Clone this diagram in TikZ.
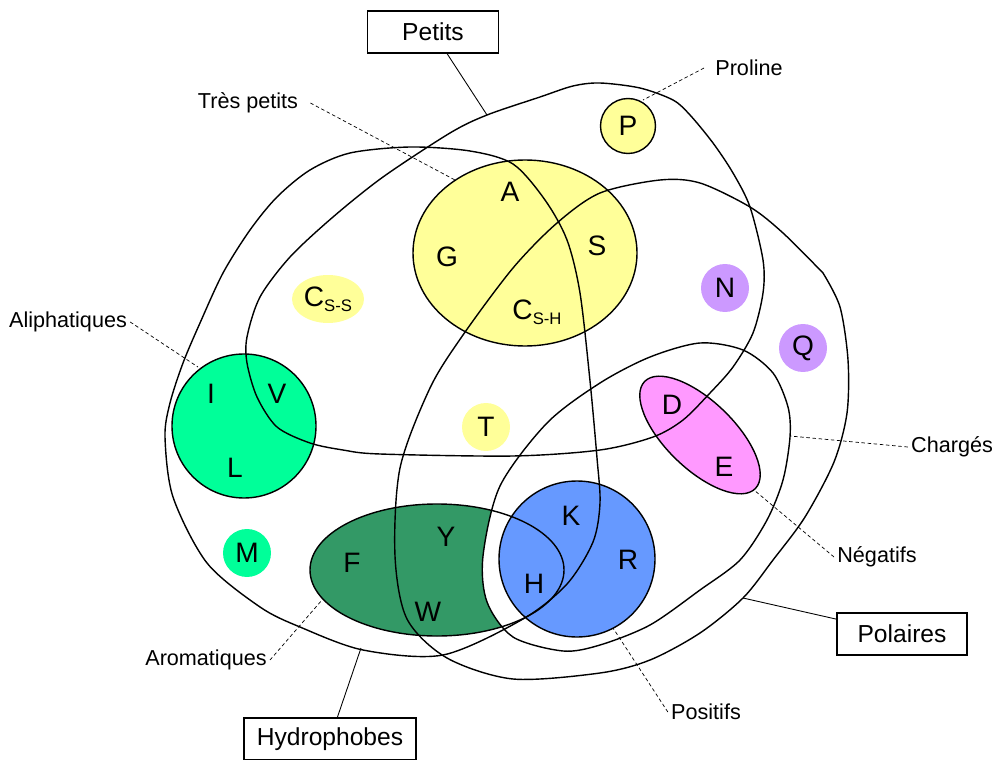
\documentclass[tikz,border=0pt]{standalone}
\usepackage{fontspec}
\setmainfont{Liberation Sans}
\usetikzlibrary{calc,positioning}
\usetikzlibrary{shapes.geometric}

\definecolor{jaune}{HTML}{FFFF99}
\definecolor{vertclair}{HTML}{00FF99}
\definecolor{vertfonce}{HTML}{339966}
\definecolor{bleu}{HTML}{6699FF}
\definecolor{rose}{HTML}{FF99FF}
\definecolor{mauve}{HTML}{CC99FF}

\newcommand{\cysub}[1]{\raisebox{-2.8pt}{\fontsize{9.5pt}{10pt}\selectfont #1}}

\tikzset{
    ensemble/.style={line width=0.8pt},
    aa/.style={font=\fontsize{16pt}{16pt}\selectfont, inner sep=0pt},
    pastille/.style={aa, circle, minimum size=0.96cm},
    etiq/.style={font=\fontsize{12.3pt}{14pt}\selectfont, inner sep=0.06cm},
    boite/.style={draw, line width=0.6pt, font=\fontsize{14pt}{16pt}\selectfont, minimum height=0.84cm, inner sep=0pt},
    renvoi/.style={dashed, dash pattern=on 2pt off 1.5pt, line width=0.4pt},
    trait/.style={line width=0.5pt}
}

\begin{document}
\begin{tikzpicture}[x=0.02cm, y=-0.02cm]
    \useasboundingbox (0,0) rectangle (997,760);

    % fonds colores
    \fill[jaune] (525,253) ellipse [x radius=112, y radius=93];
    \fill[vertclair] (244,426) circle [radius=72];
    \fill[vertfonce] (437,570) ellipse [x radius=127, y radius=66];
    % Charges
    \fill[white] plot[smooth cycle] coordinates {(700,343) (743,350) (773,373) (788,407) (790,437) (783,480) (767,520) (740,560) (700,590) (650,625) (600,645) (563,651) (513,637) (487,602) (483,556) (500,486) (547,423) (600,383) (650,357)};
    \fill[bleu] (577,559) circle [radius=78];
    \fill[rose, rotate around={-44:(700,435)}] (700,435) ellipse [x radius=77, y radius=34];

    % contours
    \draw[ensemble] (525,253) ellipse [x radius=112, y radius=93];
    \draw[ensemble] (244,426) circle [radius=72];
    \draw[ensemble] (437,570) ellipse [x radius=127, y radius=66];
    \draw[ensemble] (577,559) circle [radius=78];
    \draw[ensemble, rotate around={-44:(700,435)}] (700,435) ellipse [x radius=77, y radius=34];

    % Petits
    \draw[ensemble] plot[smooth cycle] coordinates {(487,115) (540,97) (573,86) (600,83) (640,88) (673,100) (690,115) (713,143) (733,173) (750,207) (763,260) (763,293) (753,333) (733,367) (710,393) (683,420) (653,437) (600,450) (513,456) (380,454) (343,450) (310,443) (277,427) (257,397) (247,363) (247,337) (260,297) (290,257) (333,217) (383,177) (450,133)};
    % Hydrophobes
    \draw[ensemble] plot[smooth cycle] coordinates {(410,147) (470,151) (513,164) (545,200) (567,240) (580,293) (590,381) (597,458) (600,503) (593,542) (567,584) (523,619) (443,655) (363,650) (300,627) (260,607) (207,563) (173,497) (165,437) (170,403) (183,363) (200,323) (223,273) (250,230) (277,197) (310,170) (350,153)};
    % Polaires (un coin a droite)
    \draw[ensemble] plot[smooth] coordinates {(823,273) (840,307) (848,360) (847,413) (834,462) (805,517) (773,560) (743,598) (700,633) (650,660) (600,673) (513,679) (447,658) (407,619) (395,556) (400,468) (430,388) (463,335) (513,268) (557,223) (600,193) (660,180) (700,183) (750,207) (783,233) (823,273)};
    % Charges
    \draw[ensemble] plot[smooth cycle] coordinates {(700,343) (743,350) (773,373) (788,407) (790,437) (783,480) (767,520) (740,560) (700,590) (650,625) (600,645) (563,651) (513,637) (487,602) (483,556) (500,486) (547,423) (600,383) (650,357)};

    % acides amines isoles
    \node[pastille, draw, line width=0.8pt, fill=jaune, minimum size=1.1cm] (P) at (628,126) {P};
    \node[aa, ellipse, fill=jaune, minimum width=1.44cm, minimum height=0.96cm] (Css) at (328,299) {C\cysub{S-S}};
    \node[pastille, fill=jaune] (T) at (486,427) {T};
    \node[pastille, fill=mauve] (N) at (725,288) {N};
    \node[pastille, fill=mauve] (Q) at (803,348) {Q};
    \node[pastille, fill=vertclair] (M) at (247,553) {M};

    \node[aa] (A) at (510,192) {A};
    \node[aa] (G) at (447,257) {G};
    \node[aa] (S) at (597,246) {S};
    \node[aa] (Csh) at (537,312) {C\cysub{S-H}};
    \node[aa] (I) at (211,394) {I};
    \node[aa] (V) at (277,394) {V};
    \node[aa] (L) at (235,468) {L};
    \node[aa] (D) at (672,405) {D};
    \node[aa] (E) at (724,467) {E};
    \node[aa] (K) at (571,516) {K};
    \node[aa] (R) at (628,560) {R};
    \node[aa] (H) at (534,584) {H};
    \node[aa] (Y) at (446,537) {Y};
    \node[aa] (F) at (352,563) {F};
    \node[aa] (W) at (428,612) {W};

    % etiquettes
    \node[boite, minimum width=2.62cm] (petits) at (433,32) {Petits};
    \node[boite, minimum width=2.6cm] (polaires) at (902,634) {Polaires};
    \node[boite, minimum width=3.44cm] (hydro) at (330,739) {Hydrophobes};

    \node[etiq, inner xsep=0.24cm] (tp) at (248,103) {Très petits};
    \node[etiq, inner xsep=0.22cm] (proline) at (749,68) {Proline};
    \node[etiq] (aliph) at (68,322) {Aliphatiques};
    \node[etiq] (charges) at (952,447) {Chargés};
    \node[etiq] (negatifs) at (877,557) {Négatifs};
    \node[etiq] (positifs) at (706,712) {Positifs};
    \node[etiq] (aromat) at (206,660) {Aromatiques};

    \coordinate (bpetits) at (487,115);
    \coordinate (bpolaires) at (743,598);
    \coordinate (bhydro) at (361,648);
    \coordinate (btp) at (455,180);
    \coordinate (bproline) at (643,100);
    \coordinate (baliph) at (198,367);
    \coordinate (bcharges) at (790,436);
    \coordinate (bnegatifs) at (754,490);
    \coordinate (bpositifs) at (613,628);
    \coordinate (baromat) at (322,600);

    \draw[trait] (petits) -- (bpetits);
    \draw[trait] (polaires) -- (bpolaires);
    \draw[trait] (hydro) -- (bhydro);

    \draw[renvoi] (tp.east) -- (btp);
    \draw[renvoi] (proline.west) -- (bproline);
    \draw[renvoi] (aliph.east) -- (baliph);
    \draw[renvoi] (charges.west) -- (bcharges);
    \draw[renvoi] (negatifs.west) -- (bnegatifs);
    \draw[renvoi] (positifs.west) -- (bpositifs);
    \draw[renvoi] (aromat.east) -- (baromat);
\end{tikzpicture}
\end{document}
